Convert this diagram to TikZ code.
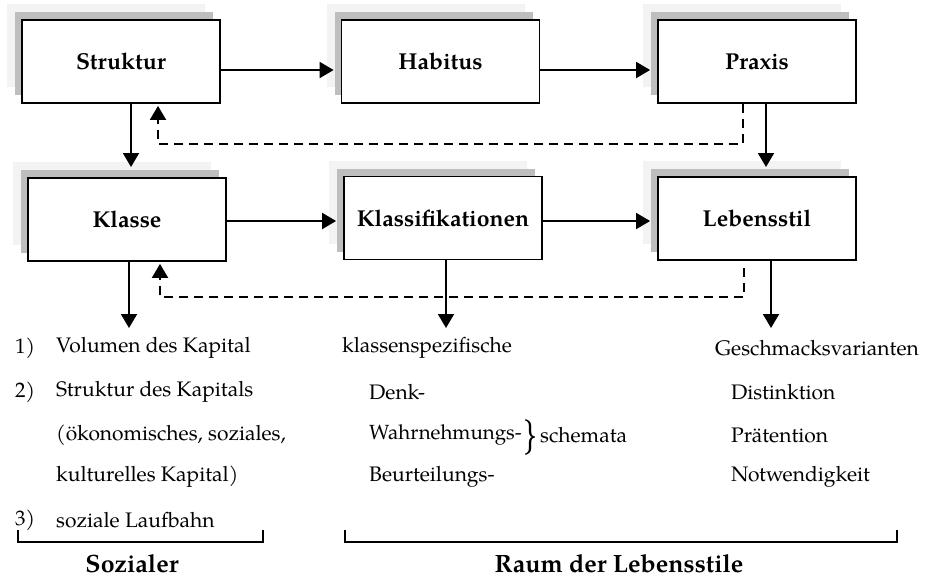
\documentclass[tikz,border=0pt]{standalone}
\usepackage{fontspec}
\setmainfont{TeX Gyre Pagella}
\usetikzlibrary{arrows.meta,shadows}
\definecolor{shadowdark}{RGB}{190,190,190}
\definecolor{shadowlight}{RGB}{243,243,243}
\tikzset{
  boxnode/.style={draw=black, line width=1.8pt, fill=white, minimum width=198pt, minimum height=83pt,
    inner sep=0pt, font=\fontsize{23}{27}\selectfont\bfseries,
    general shadow={fill=shadowlight, draw=none, shadow xshift=-15pt, shadow yshift=16pt},
    general shadow={fill=shadowdark, draw=none, shadow xshift=-7pt, shadow yshift=8pt}},
  conn/.style={line width=1.9pt, -{Triangle[length=14pt,width=16pt]}},
  feedback/.style={conn, dash pattern=on 9pt off 6pt},
  txt/.style={anchor=west, inner sep=0pt, font=\fontsize{21}{25}\selectfont},
  lbl/.style={inner sep=0pt, font=\fontsize{25}{29}\selectfont\bfseries},
  bracketline/.style={line width=1.9pt}
}
\begin{document}
\begin{tikzpicture}[x=1pt,y=-1pt]
\useasboundingbox (0,0) rectangle (925,579);
% boxes
\node[boxnode] (struktur) at (121,61.5) {Struktur};
\node[boxnode] (habitus) at (440.5,61.5) {Habitus};
\node[boxnode] (praxis) at (757,61.5) {Praxis};
\node[boxnode] (klasse) at (127,219.5) {Klasse};
\node[boxnode] (klassif) at (443,218) {Klassifikationen};
\node[boxnode] (lebensstil) at (757,218.5) {Lebensstil};
% horizontal arrows
\draw[conn] (struktur.east |- 0,70) -- ([xshift=-7pt]habitus.west |- 0,70);
\draw[conn] (habitus.east |- 0,70) -- ([xshift=-7pt]praxis.west |- 0,70);
\draw[conn] (klasse.east |- 0,221) -- ([xshift=-7pt]klassif.west |- 0,221);
\draw[conn] (klassif.east |- 0,221) -- ([xshift=-7pt]lebensstil.west |- 0,221);
% vertical arrows
\coordinate (c1) at (131,167);
\draw[conn] (struktur.south -| c1) -- (c1);
\coordinate (c2) at (766,167);
\draw[conn] (praxis.south -| c2) -- (c2);
% feedback loops
\coordinate (f1a) at (743,144);
\coordinate (f1b) at (158,144);
\draw[feedback] (praxis.south -| f1a) -- (f1a) -- (f1b) -- ([yshift=-2pt]struktur.south -| f1b);
\coordinate (f2a) at (744,297);
\coordinate (f2b) at (160,297);
\draw[feedback] ([yshift=-7pt]lebensstil.south -| f2a) -- (f2a) -- (f2b) -- ([yshift=-2pt]klasse.south -| f2b);
% outputs
\coordinate (o1) at (129,328);
\coordinate (o2) at (446,328);
\coordinate (o3) at (771,328);
\draw[conn] (klasse.south -| o1) -- (o1);
\draw[conn] (klassif.south -| o2) -- (o2);
\draw[conn] (lebensstil.south -| o3) -- (o3);
% left column
\node[txt] (n1) at (15,348) {1)};
\node[txt] (t1) at (56,348) {Volumen des Kapital};
\node[txt] (n2) at (15,392) {2)};
\node[txt] (t2) at (56,392) {Struktur des Kapitals};
\node[txt] (t3) at (56,435) {(ökonomisches, soziales,};
\node[txt] (t4) at (56,477) {kulturelles Kapital)};
\node[txt] (n3) at (15,520) {3)};
\node[txt] (t5) at (56,520) {soziale Laufbahn};
% middle column
\node[txt] (m1) at (342,348) {klassenspezifische};
\node[txt] (m2) at (369,392) {Denk-};
\node[txt, font=\fontsize{20.5}{25}\selectfont] (m3) at (369,435) {Wahrnehmungs-};
\node[inner sep=0pt, font=\fontsize{36}{36}\selectfont] (brace) at (530,437) {\}};
\node[txt] (m4) at (540,435) {schemata};
\node[txt] (m5) at (369,477) {Beurteilungs-};
% right column
\node[txt] (r1) at (715,348) {Geschmacksvarianten};
\node[txt] (r2) at (731,392) {Distinktion};
\node[txt] (r3) at (731,435) {Prätention};
\node[txt] (r4) at (731,477) {Notwendigkeit};
% brackets
\coordinate (b1a) at (18,530); \coordinate (b1b) at (18,542);
\coordinate (b1c) at (263,542); \coordinate (b1d) at (263,530);
\draw[bracketline] (b1a) -- (b1b) -- (b1c) -- (b1d);
\coordinate (b2a) at (345,530); \coordinate (b2b) at (345,542);
\coordinate (b2c) at (897,542); \coordinate (b2d) at (897,530);
\draw[bracketline] (b2a) -- (b2b) -- (b2c) -- (b2d);
\node[lbl] (soz) at (132,564) {Sozialer};
\node[lbl] (raum) at (619,564) {Raum der Lebensstile};
\end{tikzpicture}
\end{document}
